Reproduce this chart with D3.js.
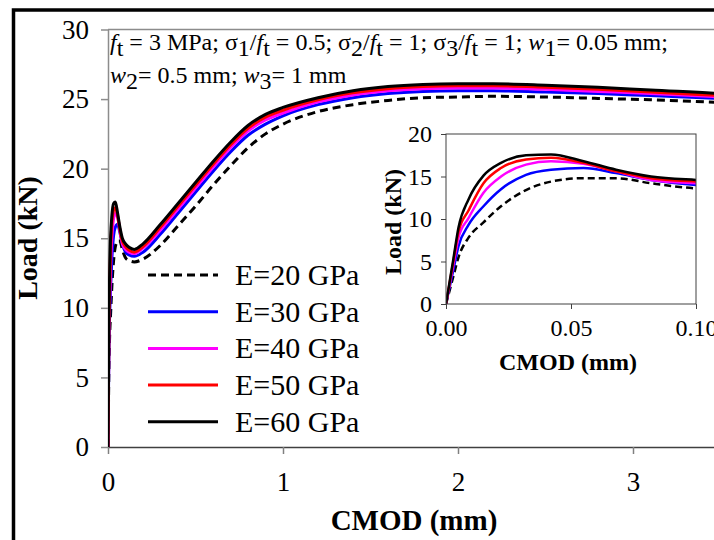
<!DOCTYPE html>
<html>
<head>
<meta charset="utf-8">
<script src="https://cdn.jsdelivr.net/npm/d3@7"></script>
<style>
  body { margin: 0; background: #fff; }
  svg text { font-family: "Liberation Serif", "Times New Roman", serif; fill: #000; }
</style>
</head>
<body>
<svg id="chart"></svg>
<script>
const SERIF = '"Liberation Serif", "Times New Roman", serif';

// CMOD sample points (mm), shared by all series
const cmod = [0, 0.003, 0.005, 0.009, 0.015, 0.022, 0.032, 0.042, 0.055, 0.068, 0.082, 0.1, 0.12, 0.15,
  0.2, 0.3, 0.4, 0.5, 0.6, 0.7, 0.8, 0.9, 1.0, 1.2, 1.4, 1.6, 1.8, 2.0, 2.2, 2.5, 2.8, 3.1, 3.5, 4.0];

// load (kN)
const loadE20 = [0, 3.3, 5.5, 7.8, 9.6, 11.5, 13.4, 14.4, 14.8, 14.8, 14.2, 13.6, 13.4, 13.3,
  13.5, 14.5, 15.9, 17.3, 18.8, 20.2, 21.5, 22.5, 23.2, 24.1, 24.6, 24.9, 25.1, 25.15, 25.2, 25.15, 25.05, 24.95, 24.75, 24.45];
const loadE30 = [0, 4.1, 6.8, 9.3, 11.5, 13.5, 15.2, 15.8, 16.0, 15.4, 14.6, 14.0, 13.8, 13.7,
  14.0, 15.3, 16.8, 18.3, 19.8, 21.2, 22.4, 23.2, 23.8, 24.6, 25.1, 25.4, 25.55, 25.6, 25.6, 25.5, 25.4, 25.25, 25.05, 24.7];
const loadE40 = [0, 4.7, 7.8, 10.1, 13.1, 15.0, 16.4, 16.8, 16.5, 15.6, 14.6, 14.2, 14.0, 13.9,
  14.3, 15.6, 17.1, 18.6, 20.1, 21.5, 22.7, 23.5, 24.0, 24.8, 25.3, 25.6, 25.75, 25.8, 25.8, 25.7, 25.55, 25.4, 25.15, 24.8];
const loadE50 = [0, 5.1, 8.5, 11.0, 14.2, 16.0, 17.0, 17.2, 16.6, 15.6, 14.8, 14.4, 14.15, 14.0,
  14.4, 15.8, 17.3, 18.8, 20.3, 21.7, 22.9, 23.7, 24.2, 24.95, 25.45, 25.75, 25.9, 25.95, 25.95, 25.85, 25.7, 25.5, 25.25, 24.9];
const loadE60 = [0, 5.4, 9.0, 12.3, 15.1, 16.6, 17.5, 17.6, 16.8, 15.8, 15.0, 14.6, 14.35, 14.2,
  14.6, 16.0, 17.5, 19.0, 20.5, 21.9, 23.1, 23.9, 24.4, 25.1, 25.6, 25.9, 26.05, 26.1, 26.1, 26.0, 25.85, 25.65, 25.4, 24.95];

const seriesNames = ['E=20 GPa', 'E=30 GPa', 'E=40 GPa', 'E=50 GPa', 'E=60 GPa'];
const seriesColors = ['#000000', '#0000ff', '#ff00ff', '#ff0000', '#000000'];
const seriesDash = ['8,5', null, null, null, null];

const mainXTicks = [0, 1, 2, 3];
const mainYTicks = [0, 5, 10, 15, 20, 25, 30];
const insetXTicks = [0, 0.05, 0.10];
const insetYTicks = [0, 5, 10, 15, 20];

const series = [loadE20, loadE30, loadE40, loadE50, loadE60].map((loads, i) => ({
  name: seriesNames[i],
  color: seriesColors[i],
  dash: seriesDash[i],
  values: cmod.map((c, j) => ({ x: c, y: loads[j] }))
}));

const W = 714, H = 540;
const svg = d3.select('#chart').attr('width', W).attr('height', H);

// outer figure frame (cut off on right and bottom)
svg.append('rect')
  .attr('x', 13.5).attr('y', 10).attr('width', 800).attr('height', 600)
  .attr('fill', 'none').attr('stroke', '#000').attr('stroke-width', 3.5);

// ---------------- main chart ----------------
const x = d3.scaleLinear().domain([0, 4]).range([108, 808]);
const y = d3.scaleLinear().domain([0, 30]).range([447, 29.5]);

svg.append('defs').append('clipPath').attr('id', 'mainClip')
  .append('rect').attr('x', 108).attr('y', 29.5).attr('width', 700).attr('height', 417.5);

// top frame line of the plot area
svg.append('line')
  .attr('x1', 108).attr('x2', 808).attr('y1', 29.5).attr('y2', 29.5)
  .attr('stroke', '#8c8c8c').attr('stroke-width', 1.5);

const yAxis = svg.append('g')
  .attr('transform', 'translate(108,0)')
  .call(d3.axisLeft(y).tickValues(mainYTicks).tickSize(7).tickPadding(12).tickSizeOuter(0));
yAxis.attr('font-family', SERIF);
yAxis.select('.domain').attr('stroke', '#8c8c8c').attr('stroke-width', 1.5);
yAxis.selectAll('.tick line').attr('stroke', '#8c8c8c').attr('stroke-width', 1.5);
yAxis.selectAll('.tick text').attr('font-size', 27).style('font-family', SERIF);

const xAxis = svg.append('g')
  .attr('transform', 'translate(0,447)')
  .call(d3.axisBottom(x).tickValues(mainXTicks).tickFormat(d3.format('d')).tickSize(7).tickPadding(18).tickSizeOuter(0));
xAxis.attr('font-family', SERIF);
xAxis.select('.domain').attr('stroke', '#404040').attr('stroke-width', 1.5);
xAxis.selectAll('.tick line').attr('stroke', '#808080').attr('stroke-width', 1.5);
xAxis.selectAll('.tick text').attr('font-size', 27).style('font-family', SERIF);

const line = d3.line()
  .x(d => x(d.x))
  .y(d => y(d.y))
  .curve(d3.curveMonotoneX);

svg.append('g').attr('clip-path', 'url(#mainClip)')
  .selectAll('path')
  .data(series)
  .join('path')
  .attr('fill', 'none')
  .attr('stroke', d => d.color)
  .attr('stroke-width', 3)
  .attr('stroke-dasharray', d => d.dash)
  .attr('d', d => line(d.values));

// axis titles
svg.append('text')
  .attr('x', 414).attr('y', 530)
  .attr('text-anchor', 'middle')
  .attr('font-size', 29).attr('font-weight', 'bold')
  .text('CMOD (mm)');

svg.append('text')
  .attr('transform', 'translate(37,238) rotate(-90)')
  .attr('text-anchor', 'middle')
  .attr('font-size', 28).attr('font-weight', 'bold')
  .text('Load (kN)');

// parameter note, subscripts dropped by dy
const addPart = (t, txt, opts = {}) => {
  const s = t.append('tspan').text(txt);
  if (opts.italic) s.attr('font-style', 'italic');
  if (opts.dy) s.attr('dy', opts.dy);
  return s;
};
const n1 = svg.append('text').attr('font-size', 24).attr('x', 110).attr('y', 50);
addPart(n1, 'f', { italic: true });
addPart(n1, 't', { dy: 6 });
addPart(n1, ' = 3 MPa; σ', { dy: -6 });
addPart(n1, '1', { dy: 6 });
addPart(n1, '/', { dy: -6 });
addPart(n1, 'f', { italic: true });
addPart(n1, 't', { dy: 6 });
addPart(n1, ' = 0.5; σ', { dy: -6 });
addPart(n1, '2', { dy: 6 });
addPart(n1, '/', { dy: -6 });
addPart(n1, 'f', { italic: true });
addPart(n1, 't', { dy: 6 });
addPart(n1, ' = 1; σ', { dy: -6 });
addPart(n1, '3', { dy: 6 });
addPart(n1, '/', { dy: -6 });
addPart(n1, 'f', { italic: true });
addPart(n1, 't', { dy: 6 });
addPart(n1, ' = 1; ', { dy: -6 });
addPart(n1, 'w', { italic: true });
addPart(n1, '1', { dy: 6 });
addPart(n1, '= 0.05 mm;', { dy: -6 });

const n2 = svg.append('text').attr('font-size', 24).attr('x', 110).attr('y', 83);
addPart(n2, 'w', { italic: true });
addPart(n2, '2', { dy: 6 });
addPart(n2, '= 0.5 mm; ', { dy: -6 });
addPart(n2, 'w', { italic: true });
addPart(n2, '3', { dy: 6 });
addPart(n2, '= 1 mm', { dy: -6 });

// legend
const legendRows = svg.append('g').selectAll('g')
  .data(series)
  .join('g')
  .attr('transform', (d, i) => `translate(148,${275 + i * 36.7})`);
legendRows.append('line')
  .attr('x1', 0).attr('x2', 70)
  .attr('stroke', d => d.color)
  .attr('stroke-width', 3)
  .attr('stroke-dasharray', d => d.dash);
legendRows.append('text')
  .attr('x', 87).attr('y', 10)
  .attr('font-size', 30)
  .style('font-family', SERIF)
  .text(d => d.name);

// ---------------- inset ----------------
const ix = d3.scaleLinear().domain([0, 0.1]).range([446, 696]);
const iy = d3.scaleLinear().domain([0, 20]).range([304, 134]);

svg.select('defs').append('clipPath').attr('id', 'insetClip')
  .append('rect').attr('x', 446).attr('y', 134).attr('width', 250).attr('height', 170);

const iline = d3.line()
  .x(d => ix(d.x))
  .y(d => iy(d.y))
  .curve(d3.curveMonotoneX);

svg.append('g').attr('clip-path', 'url(#insetClip)')
  .selectAll('path')
  .data(series)
  .join('path')
  .attr('fill', 'none')
  .attr('stroke', d => d.color)
  .attr('stroke-width', 2.5)
  .attr('stroke-dasharray', d => d.dash ? '7,4' : null)
  .attr('d', d => iline(d.values));

svg.append('rect')
  .attr('x', 446).attr('y', 134).attr('width', 250).attr('height', 170)
  .attr('fill', 'none').attr('stroke', '#404040').attr('stroke-width', 1);

const iyAxis = svg.append('g')
  .attr('transform', 'translate(446,0)')
  .call(d3.axisLeft(iy).tickValues(insetYTicks).tickSize(5).tickPadding(9).tickSizeOuter(0));
iyAxis.attr('font-family', SERIF);
iyAxis.select('.domain').remove();
iyAxis.selectAll('.tick line').attr('stroke', '#404040');
iyAxis.selectAll('.tick text').attr('font-size', 24).style('font-family', SERIF);

const ixAxis = svg.append('g')
  .attr('transform', 'translate(0,304)')
  .call(d3.axisBottom(ix).tickValues(insetXTicks).tickFormat(d3.format('.2f')).tickSize(5).tickPadding(10).tickSizeOuter(0));
ixAxis.attr('font-family', SERIF);
ixAxis.select('.domain').remove();
ixAxis.selectAll('.tick line').attr('stroke', '#404040');
ixAxis.selectAll('.tick text').attr('font-size', 24).style('font-family', SERIF);

svg.append('text')
  .attr('x', 568).attr('y', 370)
  .attr('text-anchor', 'middle')
  .attr('font-size', 24).attr('font-weight', 'bold')
  .text('CMOD (mm)');

svg.append('text')
  .attr('transform', 'translate(401,222) rotate(-90)')
  .attr('text-anchor', 'middle')
  .attr('font-size', 24).attr('font-weight', 'bold')
  .text('Load (kN)');
</script>
</body>
</html>
